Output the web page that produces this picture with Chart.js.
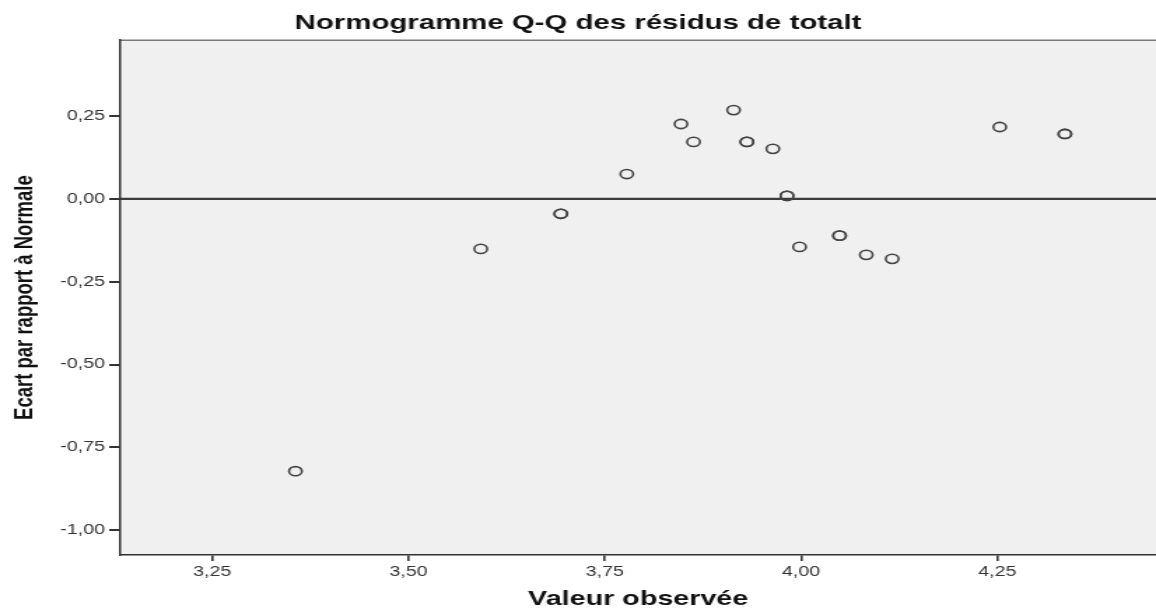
<!DOCTYPE html>
<html>
<head>
<meta charset="utf-8">
<script src="https://cdn.jsdelivr.net/npm/chart.js@4/dist/chart.umd.min.js"></script>
<style>
  html, body { margin: 0; padding: 0; background: #fff; overflow: hidden; }
  /* the original export is stretched horizontally, so draw narrow and widen */
  #wrap { width: 826px; height: 612px; transform: scaleX(1.3995); transform-origin: 0 0; }
</style>
</head>
<body>
<div id="wrap"><canvas id="qq"></canvas></div>
<script>
// observed values and detrended deviations (overlapping cases repeated)
const observed  = [3.356, 3.592, 3.694, 3.694, 3.778, 3.847, 3.863, 3.914, 3.931, 3.931,
                   3.964, 3.982, 3.982, 3.998, 4.049, 4.049, 4.083, 4.116, 4.253, 4.336, 4.336];
const deviation = [-0.822, -0.151, -0.045, -0.045, 0.075, 0.226, 0.172, 0.268, 0.172, 0.172,
                   0.151, 0.009, 0.009, -0.145, -0.111, -0.111, -0.169, -0.181, 0.217, 0.196, 0.196];
const xTickValues = [3.25, 3.5, 3.75, 4.0, 4.25];
const yTickValues = [-1.0, -0.75, -0.5, -0.25, 0.0, 0.25];
const refLine = 0;

const fmt = v => Number(v).toFixed(2).replace('.', ',');
const sans = "'Liberation Sans', Arial, sans-serif";

const plotBackground = {
    id: 'plotBackground',
    beforeDraw(chart) {
        const { ctx, chartArea: a } = chart;
        ctx.save();
        ctx.fillStyle = '#f0f0f0';
        ctx.fillRect(a.left, a.top, a.right - a.left, a.bottom - a.top);
        ctx.strokeStyle = '#7a7a7a';
        ctx.lineWidth = 1.5;
        ctx.beginPath();
        ctx.moveTo(a.left, a.top);
        ctx.lineTo(a.right, a.top);
        ctx.stroke();
        ctx.restore();
    }
};

const zeroLine = {
    id: 'zeroLine',
    beforeDatasetsDraw(chart) {
        const { ctx, chartArea: a, scales } = chart;
        const y = scales.y.getPixelForValue(refLine);
        ctx.save();
        ctx.strokeStyle = '#3c3c3c';
        ctx.lineWidth = 2.2;
        ctx.beginPath();
        ctx.moveTo(a.left, y);
        ctx.lineTo(a.right, y);
        ctx.stroke();
        ctx.restore();
    }
};

new Chart(document.getElementById('qq'), {
    type: 'scatter',
    data: {
        datasets: [{
            label: 'Résidus',
            data: observed.map((x, i) => ({ x: x, y: deviation[i] })),
            pointRadius: 4.6,
            pointBorderWidth: 1.6,
            pointBorderColor: '#444',
            pointBackgroundColor: 'rgba(0,0,0,0)',
            showLine: false
        }]
    },
    options: {
        responsive: true,
        maintainAspectRatio: false,
        animation: false,
        devicePixelRatio: 1,
        layout: { autoPadding: false, padding: 0 },
        plugins: {
            legend: { display: false },
            tooltip: { enabled: false },
            title: {
                display: true,
                text: 'Normogramme Q-Q des résidus de totalt',
                color: '#111',
                font: { family: sans, size: 21, weight: 'bold' },
                padding: { top: 11, bottom: 4 }
            }
        },
        scales: {
            x: {
                type: 'linear',
                min: 3.133,
                max: 4.452,
                afterBuildTicks: s => { s.ticks = xTickValues.map(v => ({ value: v })); },
                afterFit: s => { s.height = 57; },
                ticks: {
                    callback: fmt,
                    color: '#333',
                    font: { family: sans, size: 14 },
                    padding: 3,
                    maxRotation: 0,
                    autoSkip: false
                },
                grid: { drawOnChartArea: false, drawTicks: true, tickLength: 6, tickColor: '#333', lineWidth: 1.6 },
                border: { color: '#333', width: 1.5 },
                title: {
                    display: true,
                    text: 'Valeur observée',
                    color: '#111',
                    font: { family: sans, size: 20.5, weight: 'bold' },
                    padding: { top: 4, bottom: 0 }
                }
            },
            y: {
                type: 'linear',
                min: -1.075,
                max: 0.479,
                afterBuildTicks: s => { s.ticks = yTickValues.map(v => ({ value: v })); },
                afterFit: s => { s.width = 86; },
                ticks: {
                    callback: fmt,
                    color: '#333',
                    font: { family: sans, size: 14 },
                    padding: 3
                },
                grid: { drawOnChartArea: false, drawTicks: true, tickLength: 8, tickColor: '#333', lineWidth: 2 },
                border: { color: '#333', width: 1.5 },
                title: {
                    display: true,
                    text: 'Ecart par rapport à Normale',
                    color: '#111',
                    font: { family: sans, size: 18.5, weight: 'bold' },
                    padding: { top: 7, bottom: 0 }
                }
            }
        }
    },
    plugins: [plotBackground, zeroLine]
});
</script>
</body>
</html>
